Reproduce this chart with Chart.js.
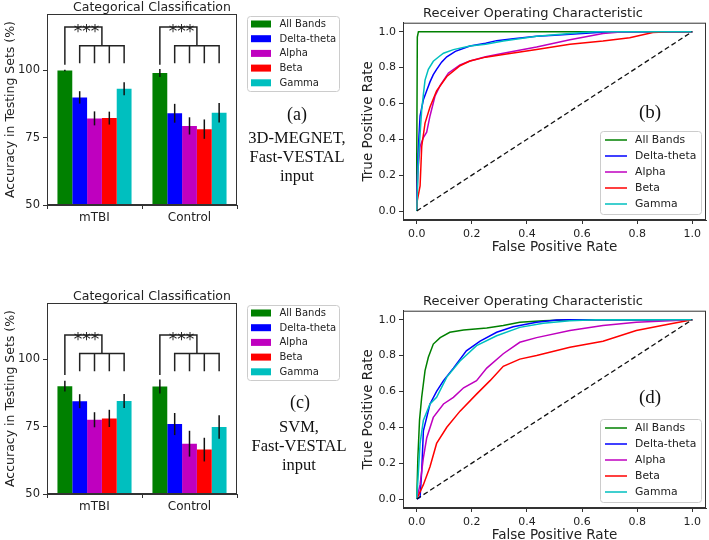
<!DOCTYPE html>
<html>
<head>
<meta charset="utf-8">
<script src="https://cdn.jsdelivr.net/npm/chart.js@4.4.1/dist/chart.umd.min.js"></script>
<style>
body { margin:0; background:#fff; width:709px; height:540px; position:relative; overflow:hidden; }
canvas { position:absolute; }
.cap { position:absolute; font-family:'Liberation Serif', serif; color:#111; text-align:center; width:150px; font-size:16.5px; line-height:19px; }
.tag { position:absolute; font-family:'Liberation Serif', serif; color:#111; font-size:19px; }
</style>
</head>
<body>
<canvas id="barA" width="345" height="232" style="left:0;top:0"></canvas>
<canvas id="rocB" width="349" height="260" style="left:360px;top:0"></canvas>
<canvas id="barC" width="345" height="232" style="left:0;top:289px"></canvas>
<canvas id="rocD" width="349" height="260" style="left:360px;top:288px"></canvas>

<div class="tag" style="left:287px;top:104px;font-size:18px">(a)</div>
<div class="cap" style="left:222px;top:128px">3D-MEGNET,<br>Fast-VESTAL<br>input</div>
<div class="tag" style="left:290px;top:392px;font-size:18px">(c)</div>
<div class="cap" style="left:224px;top:417px">SVM,<br>Fast-VESTAL<br>input</div>
<div class="tag" style="left:639px;top:101px">(b)</div>
<div class="tag" style="left:639px;top:386px">(d)</div>

<script>
// categorias y bandas
var groups = ['mTBI', 'Control'];
var bands = ['All Bands', 'Delta-theta', 'Alpha', 'Beta', 'Gamma'];
var colours = ['#008000', '#0000ff', '#bf00bf', '#ff0000', '#00bfbf'];
var barTicks = [50, 75, 100];
var rocTicks = [0, 0.2, 0.4, 0.6, 0.8, 1.0];

// precision (%) por banda: [mTBI, Control]  -- 3D-MEGNET
var megAll = [100, 99.1];
var megDelta = [90.0, 84.1];
var megAlpha = [82.2, 79.4];
var megBeta = [82.3, 78.2];
var megGamma = [93.2, 84.3];
// barras de error
var megAllErr = [0.3, 1.5];
var megDeltaErr = [2.3, 3.5];
var megAlphaErr = [2.6, 3.2];
var megBetaErr = [2.4, 3.6];
var megGammaErr = [2.4, 3.6];
// niveles de los corchetes: [arriba, abajo, pata All Bands, pata resto]
var megBracket = [116.2, 109.2, 102.1, 102.7];

// SVM
var svmAll = [90.1, 90.0];
var svmDelta = [84.5, 76.0];
var svmAlpha = [77.6, 68.7];
var svmBeta = [78.1, 66.5];
var svmGamma = [84.6, 74.9];
var svmAllErr = [2.0, 2.6];
var svmDeltaErr = [2.6, 4.1];
var svmAlphaErr = [2.8, 4.8];
var svmBetaErr = [3.2, 4.4];
var svmGammaErr = [2.6, 4.4];
var svmBracket = [109.1, 102.2, 94.2, 95.6];

// curvas ROC [fpr, tpr] -- (b) 3D-MEGNET
var rocB_all = [[0,0],[0,0.3],[0.002,0.97],[0.006,1],[1,1]];
var rocB_delta = [[0,0],[0.003,0.25],[0.008,0.42],[0.012,0.53],[0.024,0.62],[0.036,0.67],[0.048,0.72],[0.06,0.76],[0.072,0.79],[0.09,0.83],[0.109,0.86],[0.14,0.89],[0.193,0.92],[0.25,0.935],[0.29,0.95],[0.35,0.96],[0.435,0.975],[0.5,0.98],[0.6,0.99],[0.7,1],[1,1]];
var rocB_alpha = [[0,0],[0.003,0.2],[0.006,0.26],[0.012,0.36],[0.024,0.41],[0.036,0.44],[0.048,0.53],[0.066,0.64],[0.085,0.7],[0.115,0.77],[0.157,0.815],[0.193,0.836],[0.25,0.86],[0.314,0.88],[0.435,0.915],[0.556,0.955],[0.676,0.99],[0.75,1],[1,1]];
var rocB_beta = [[0,0],[0.002,0.06],[0.012,0.14],[0.018,0.36],[0.03,0.49],[0.048,0.58],[0.072,0.67],[0.109,0.75],[0.157,0.81],[0.193,0.836],[0.25,0.858],[0.314,0.873],[0.435,0.9],[0.556,0.93],[0.676,0.948],[0.773,0.966],[0.857,0.995],[0.918,1],[1,1]];
var rocB_gamma = [[0,0],[0.006,0.285],[0.012,0.43],[0.018,0.565],[0.024,0.65],[0.03,0.73],[0.042,0.79],[0.06,0.835],[0.08,0.86],[0.097,0.88],[0.133,0.9],[0.193,0.92],[0.25,0.93],[0.314,0.948],[0.435,0.975],[0.6,0.995],[0.65,1],[1,1]];

// (d) SVM
var rocD_all = [[0,0],[0.004,0.23],[0.01,0.44],[0.018,0.57],[0.03,0.716],[0.042,0.79],[0.06,0.864],[0.085,0.9],[0.12,0.93],[0.17,0.942],[0.254,0.953],[0.314,0.967],[0.374,0.985],[0.459,0.994],[0.556,1],[1,1]];
var rocD_delta = [[0,0],[0.012,0.01],[0.018,0.16],[0.024,0.38],[0.048,0.53],[0.072,0.6],[0.097,0.66],[0.133,0.73],[0.18,0.826],[0.23,0.88],[0.29,0.93],[0.35,0.96],[0.435,0.985],[0.507,0.998],[0.55,1],[1,1]];
var rocD_alpha = [[0,0],[0.012,0.08],[0.024,0.23],[0.036,0.34],[0.06,0.455],[0.097,0.53],[0.133,0.567],[0.17,0.62],[0.217,0.66],[0.254,0.73],[0.314,0.81],[0.374,0.874],[0.435,0.9],[0.556,0.94],[0.676,0.967],[0.797,0.985],[0.918,0.994],[1,1]];
var rocD_beta = [[0,0],[0.024,0.08],[0.048,0.18],[0.072,0.31],[0.109,0.4],[0.157,0.49],[0.217,0.585],[0.266,0.66],[0.314,0.74],[0.374,0.78],[0.435,0.8],[0.556,0.846],[0.676,0.88],[0.797,0.94],[0.918,0.976],[1,1]];
var rocD_gamma = [[0,0],[0.012,0.31],[0.024,0.44],[0.048,0.53],[0.072,0.567],[0.109,0.68],[0.157,0.77],[0.217,0.855],[0.29,0.91],[0.374,0.957],[0.459,0.98],[0.556,0.994],[0.65,1],[1,1]];
var diagonal = [[0,0],[1,1]];

var ink = '#222';
var font = 'DejaVu Sans';

// marco completo alrededor del area del grafico
var frame = {
  id: 'frame',
  afterDraw: function(chart) {
    var a = chart.chartArea, ctx = chart.ctx;
    ctx.save();
    ctx.strokeStyle = '#333';
    ctx.lineWidth = 1;
    ctx.strokeRect(a.left + 0.5, a.top + 0.5, a.right - a.left - 1, a.bottom - a.top - 1);
    ctx.restore();
  }
};

// barras de error
var errorBars = {
  id: 'errorBars',
  afterDatasetsDraw: function(chart) {
    var ctx = chart.ctx, y = chart.scales.y;
    ctx.save();
    ctx.strokeStyle = '#111';
    ctx.lineWidth = 1.5;
    chart.data.datasets.forEach(function(ds, i) {
      chart.getDatasetMeta(i).data.forEach(function(bar, j) {
        ctx.beginPath();
        ctx.moveTo(bar.x, y.getPixelForValue(ds.data[j] - ds.errs[j]));
        ctx.lineTo(bar.x, y.getPixelForValue(ds.data[j] + ds.errs[j]));
        ctx.stroke();
      });
    });
    ctx.restore();
  }
};

// corchetes de significancia
var brackets = {
  id: 'brackets',
  afterDatasetsDraw: function(chart, args, opts) {
    var ctx = chart.ctx, y = chart.scales.y;
    var hi = y.getPixelForValue(opts.levels[0]);
    var lo = y.getPixelForValue(opts.levels[1]);
    var legA = y.getPixelForValue(opts.levels[2]);
    var legB = y.getPixelForValue(opts.levels[3]);
    ctx.save();
    ctx.strokeStyle = ink;
    ctx.fillStyle = ink;
    ctx.lineWidth = 1.5;
    groups.forEach(function(g, j) {
      var xs = chart.data.datasets.map(function(d, i) { return chart.getDatasetMeta(i).data[j].x; });
      var mid = (xs[1] + xs[4]) / 2;
      ctx.beginPath();
      ctx.moveTo(xs[0], legA); ctx.lineTo(xs[0], hi); ctx.lineTo(mid, hi); ctx.lineTo(mid, lo);
      ctx.moveTo(xs[1], legB); ctx.lineTo(xs[1], lo); ctx.lineTo(xs[4], lo); ctx.lineTo(xs[4], legB);
      ctx.moveTo(xs[2], lo); ctx.lineTo(xs[2], legB);
      ctx.moveTo(xs[3], lo); ctx.lineTo(xs[3], legB);
      ctx.stroke();
      ctx.font = '17px ' + font;
      ctx.textAlign = 'center';
      ctx.textBaseline = 'alphabetic';
      ctx.fillText('***', (xs[0] + mid) / 2 + 3, hi + 10);
    });
    ctx.restore();
  }
};

// titulo de las barras (ligeramente desplazado como en la figura)
var barTitle = {
  id: 'barTitle',
  afterDraw: function(chart) {
    var a = chart.chartArea, ctx = chart.ctx;
    ctx.save();
    ctx.fillStyle = ink;
    ctx.font = '12.5px ' + font;
    ctx.textAlign = 'center';
    ctx.textBaseline = 'middle';
    ctx.fillText('Categorical Classification', (a.left + a.right) / 2 + 10, a.top - 6);
    ctx.restore();
  }
};

// leyenda con marco
var boxLegend = {
  id: 'boxLegend',
  afterDraw: function(chart, args, o) {
    var a = chart.chartArea, ctx = chart.ctx;
    var left = a.right + o.dx;
    var top = o.fromBottom ? a.bottom - o.dy - o.h : a.top + o.dy;
    ctx.save();
    ctx.fillStyle = 'rgba(255,255,255,0.85)';
    ctx.strokeStyle = '#ccc';
    ctx.lineWidth = 1;
    ctx.beginPath();
    ctx.roundRect(left + 0.5, top + 0.5, o.w, o.h, 3);
    ctx.fill();
    ctx.stroke();
    ctx.font = o.size + 'px ' + font;
    ctx.textBaseline = 'middle';
    ctx.textAlign = 'left';
    var row = 0;
    chart.data.datasets.forEach(function(ds) {
      if (!ds.label) return;
      var yy = top + o.first + row * o.gap;
      if (o.line) {
        ctx.strokeStyle = ds.borderColor;
        ctx.lineWidth = 1.5;
        ctx.beginPath();
        ctx.moveTo(left + 5, yy);
        ctx.lineTo(left + 27, yy);
        ctx.stroke();
      } else {
        ctx.fillStyle = ds.backgroundColor;
        ctx.fillRect(left + 4, yy - 3.5, 20, 7);
      }
      ctx.fillStyle = ink;
      ctx.fillText(ds.label, left + o.text, yy + 0.5);
      row++;
    });
    ctx.restore();
  }
};

function barChart(id, vals, errs, levels) {
  return new Chart(document.getElementById(id), {
    type: 'bar',
    data: {
      labels: groups,
      datasets: bands.map(function(b, i) {
        return { label: b, data: vals[i], errs: errs[i], backgroundColor: colours[i], barPercentage: 1, categoryPercentage: 0.78 };
      })
    },
    options: {
      responsive: false,
      animation: false,
      layout: { padding: { top: 14, right: 108, left: 0, bottom: 0 } },
      plugins: {
        legend: { display: false },
        tooltip: { enabled: false },
        brackets: { levels: levels },
        boxLegend: { dx: 10, dy: 2, w: 92, h: 75, first: 8, gap: 14.7, size: 10, text: 32.5, line: false }
      },
      scales: {
        x: {
          grid: { display: true, drawOnChartArea: false, tickLength: 4, color: '#333' },
          border: { color: '#333' },
          ticks: { color: ink, font: { family: font, size: 12 }, padding: 2 },
          afterFit: function(s) { s.height = 27; }
        },
        y: {
          min: 50, max: 121,
          afterBuildTicks: function(s) { s.ticks = barTicks.map(function(v) { return { value: v }; }); },
          grid: { display: true, drawOnChartArea: false, tickLength: 4, color: '#333' },
          border: { color: '#333' },
          ticks: { color: ink, font: { family: font, size: 11.5 }, padding: 3 },
          title: { display: true, text: 'Accuracy in Testing Sets (%)', color: ink, font: { family: font, size: 12.5 }, padding: { top: 3, bottom: 0 } },
          afterFit: function(s) { s.width = 47; }
        }
      }
    },
    plugins: [errorBars, brackets, frame, barTitle, boxLegend]
  });
}

function rocChart(id, curves) {
  var ds = bands.map(function(b, i) {
    return { label: b, data: curves[i], borderColor: colours[i], borderWidth: 1.5, pointRadius: 0, tension: 0, fill: false, order: -i };
  });
  ds.push({ label: '', data: diagonal, borderColor: '#111', borderDash: [5, 3], borderWidth: 1.3, pointRadius: 0, order: -10 });
  return new Chart(document.getElementById(id), {
    type: 'line',
    data: { datasets: ds },
    options: {
      responsive: false,
      animation: false,
      layout: { padding: { top: 0, right: 3, left: 0, bottom: 0 } },
      plugins: {
        legend: { display: false },
        tooltip: { enabled: false },
        title: { display: true, text: 'Receiver Operating Characteristic', color: ink, font: { family: font, size: 13, weight: 'normal' }, padding: { top: 5.5, bottom: 1.6 } },
        boxLegend: { dx: -106, dy: 6, w: 101, h: 83, first: 9, gap: 16, size: 10.8, text: 35, line: true, fromBottom: true }
      },
      scales: {
        x: {
          type: 'linear', min: -0.05, max: 1.05,
          afterBuildTicks: function(s) { s.ticks = rocTicks.map(function(v) { return { value: v }; }); },
          grid: { display: true, drawOnChartArea: false, tickLength: 4, color: '#333' },
          border: { color: '#333' },
          ticks: { color: ink, font: { family: font, size: 11 }, padding: 4, callback: function(v) { return v.toFixed(1); } },
          title: { display: true, text: 'False Positive Rate', color: ink, font: { family: font, size: 13.5 }, padding: { top: 0, bottom: 4 } },
          afterFit: function(s) { s.height = 40; }
        },
        y: {
          type: 'linear', min: -0.05, max: 1.05,
          afterBuildTicks: function(s) { s.ticks = rocTicks.map(function(v) { return { value: v }; }); },
          grid: { display: true, drawOnChartArea: false, tickLength: 4, color: '#333' },
          border: { color: '#333' },
          ticks: { color: ink, font: { family: font, size: 11 }, padding: 3, callback: function(v) { return v.toFixed(1); } },
          title: { display: true, text: 'True Positive Rate', color: ink, font: { family: font, size: 13.5 }, padding: { top: 0, bottom: 0 } },
          afterFit: function(s) { s.width = 43; }
        }
      }
    },
    plugins: [frame, boxLegend]
  });
}

barChart('barA', [megAll, megDelta, megAlpha, megBeta, megGamma],
  [megAllErr, megDeltaErr, megAlphaErr, megBetaErr, megGammaErr], megBracket);
barChart('barC', [svmAll, svmDelta, svmAlpha, svmBeta, svmGamma],
  [svmAllErr, svmDeltaErr, svmAlphaErr, svmBetaErr, svmGammaErr], svmBracket);
rocChart('rocB', [rocB_all, rocB_delta, rocB_alpha, rocB_beta, rocB_gamma]);
rocChart('rocD', [rocD_all, rocD_delta, rocD_alpha, rocD_beta, rocD_gamma]);
</script>
</body>
</html>
